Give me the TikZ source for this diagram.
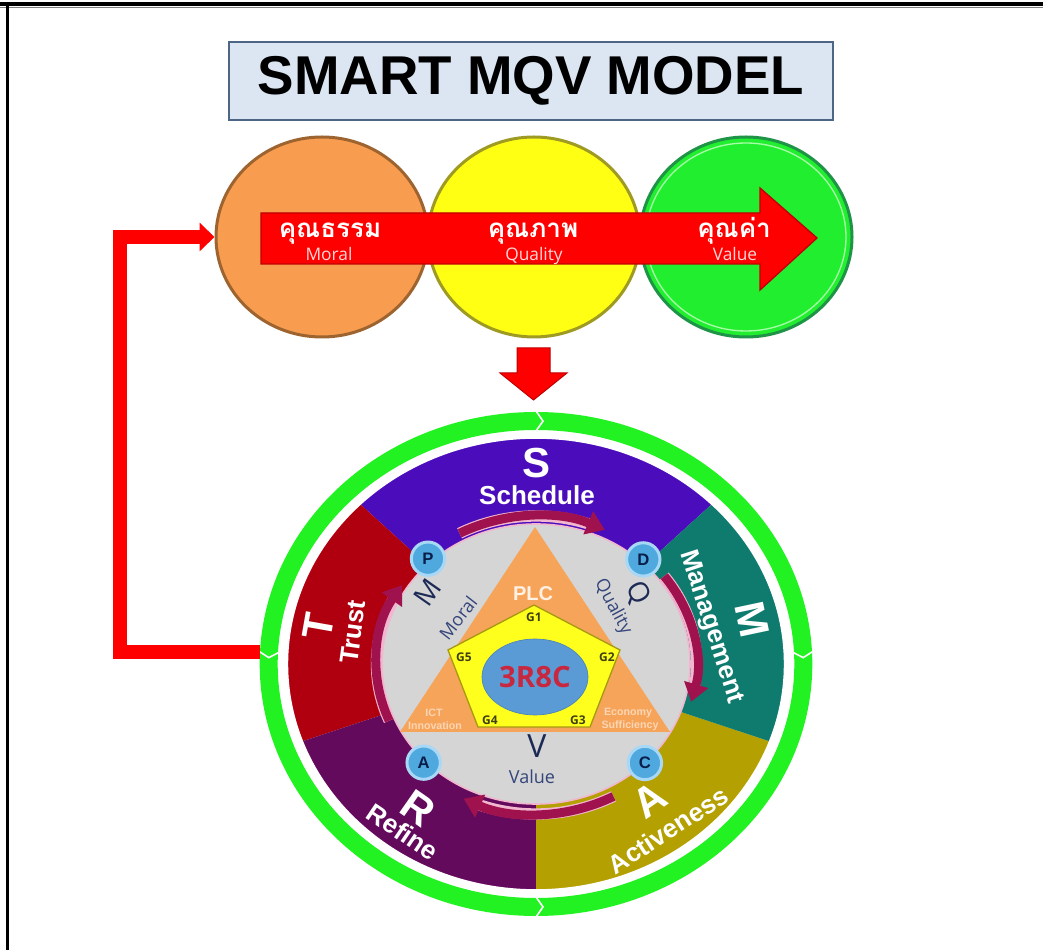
\documentclass[tikz,border=0pt]{standalone}
\usepackage{fontspec}
\setmainfont{Liberation Sans}
\newfontfamily\thaifont[Script=Thai]{Loma}
\newfontfamily\osans{Open Sans}
\usetikzlibrary{arrows.meta,shapes.geometric}
\newcommand\fsz[1]{\fontsize{#1pt}{#1pt}\selectfont}
\definecolor{orfill}{HTML}{F89C50}
\definecolor{ordraw}{HTML}{9E6430}
\definecolor{yefill}{HTML}{FFFF14}
\definecolor{yedraw}{HTML}{9E9A22}
\definecolor{grfill}{HTML}{22EE30}
\definecolor{grdraw}{HTML}{1E9446}
\definecolor{arrred}{HTML}{FF0000}
\definecolor{arrdark}{HTML}{C00000}
\definecolor{titlefill}{HTML}{DCE6F2}
\definecolor{titledraw}{HTML}{4E6685}
\definecolor{ringgreen}{HTML}{22F222}
\definecolor{segS}{HTML}{4B0DBB}
\definecolor{segM}{HTML}{0F7A6E}
\definecolor{segA}{HTML}{B4A000}
\definecolor{segR}{HTML}{630A5C}
\definecolor{segT}{HTML}{B0000F}
\definecolor{diskgray}{HTML}{D5D5D5}
\definecolor{arcmaroon}{HTML}{A0124E}
\definecolor{arcpink}{HTML}{F2B6CF}
\definecolor{trifill}{HTML}{F6A45A}
\definecolor{pentfill}{HTML}{FFFF1E}
\definecolor{pentdraw}{HTML}{A89A10}
\definecolor{ellblue}{HTML}{5B9BD5}
\definecolor{codered}{HTML}{C8283F}
\definecolor{navytext}{HTML}{1C2A55}
\definecolor{graytext}{HTML}{34457A}
\definecolor{gtext}{HTML}{3E4010}
\definecolor{badgeblue}{HTML}{4FA8DE}
\definecolor{badgering}{HTML}{A8D8F5}
\definecolor{badgetext}{HTML}{0A1E4A}
\definecolor{tritext}{HTML}{FCD6B4}
\definecolor{plctext}{HTML}{FFF1E4}
\definecolor{engpink}{HTML}{FFD6D6}
\begin{document}
\begin{tikzpicture}[x=0.75pt,y=0.75pt,
  titlefont/.style={font=\bfseries\fsz{41}},
  bubble/.style={ellipse, line width=2.25pt, minimum width=159pt, minimum height=150pt, inner sep=0},
  thai/.style={font=\thaifont\bfseries\fsz{19.5}, text=white, inner sep=0},
  eng/.style={font=\osans\fsz{13}, text=engpink, inner sep=0},
  segbig/.style={text=white, font=\bfseries\fsz{31.5}, inner sep=0},
  segsub/.style={text=white, font=\bfseries\fsz{19.5}, inner sep=0},
  graybig/.style={text=navytext, font=\osans\fsz{21}, inner sep=0},
  graysmall/.style={text=graytext, font=\osans\fsz{13.5}, inner sep=0},
  glabel/.style={text=gtext, font=\osans\bfseries\fsz{9}, inner sep=0},
  trilabel/.style={text=tritext, font=\bfseries\fsz{8}, inner sep=0},
  badge/.style={circle, fill=badgeblue, draw=badgering, line width=2.25pt, minimum size=25pt, inner sep=0, text=badgetext, font=\bfseries\fsz{12.5}},
  arcunder/.style={draw=arcpink, line width=8.5pt},
  arcarrow/.style={draw=arcmaroon, line width=6.75pt, -{Triangle[length=13.5pt,width=18pt]}},
  notch/.style={draw=white, line width=1.2pt},
  feedback/.style={draw=arrred, line width=10.5pt, -{Triangle[length=11.25pt,width=21pt]}}
]
\useasboundingbox (0,0) rectangle (1043,950);
\fill[white] (0,0) rectangle (1043,950);
% frame
\draw[black, line width=3pt] (0,946) -- (1043,946);
\draw[gray, line width=0.6pt] (0,942.5) -- (1043,942.5);
\draw[black, line width=2.25pt] (7.5,0) -- (7.5,947);

% title
\node[draw=titledraw, fill=titlefill, line width=1.5pt, minimum width=453pt, minimum height=58.5pt, inner sep=0, titlefont, text=black] (title) at (531,869) {SMART MQV MODEL};

% bubbles
\node[bubble, fill=orfill, draw=ordraw] (orange) at (322,713) {};
\node[bubble, fill=yefill, draw=yedraw] (yellow) at (534,713) {};
\node[bubble, fill=grfill, draw=grdraw] (green) at (746,713) {};
\draw[green!35!white, line width=1pt] (746,713) ellipse [x radius=100, y radius=94];

% big red arrow
\draw[arrdark, fill=arrred, line width=1pt] (261,737) -- (760,737) -- (760,762) -- (817,712) -- (760,660) -- (760,686) -- (261,686) -- cycle;
\node[thai, anchor=base] (t1) at (330,712) {คุณธรรม};
\node[thai, anchor=base] (t2) at (533,712) {คุณภาพ};
\node[thai, anchor=base] (t3) at (734,712) {คุณค่า};
\node[eng, anchor=base] (e1) at (329,689) {Moral};
\node[eng, anchor=base] (e2) at (534,689) {Quality};
\node[eng, anchor=base] (e3) at (735,689) {Value};

% down arrow
\draw[arrdark, fill=arrred, line width=0.75pt] (517,602) -- (550,602) -- (550,577) -- (567,577) -- (533.5,550) -- (500,577) -- (517,577) -- cycle;

% big wheel
\node[ellipse, minimum width=414pt, minimum height=378pt, inner sep=0, outer sep=0] (ring) at (536,286) {};
\begin{scope}[shift={(536,286)}, xscale=1.1]
  \draw[ringgreen, line width=13.5pt] (0,0) circle (243);
  \fill[segS] (0,0) -- (45:226) arc[start angle=45, end angle=135, radius=226] -- cycle;
  \fill[segT] (0,0) -- (135:226) arc[start angle=135, end angle=200, radius=226] -- cycle;
  \fill[segR] (0,0) -- (200:226) arc[start angle=200, end angle=270, radius=226] -- cycle;
  \fill[segA] (0,0) -- (270:226) arc[start angle=270, end angle=340, radius=226] -- cycle;
  \fill[segM] (0,0) -- (-20:226) arc[start angle=-20, end angle=45, radius=226] -- cycle;
  \draw[white, line width=1.2pt] (0,0) circle (226);
  \fill[diskgray] (0,0) circle (140);
  \draw[arcpink, line width=1.2pt] (0,0) circle (140);
  \draw[notch] (90:253) -- (88.5:243) -- (90:233);
  \draw[notch] (270:253) -- (271.5:243) -- (270:233);
  \draw[notch] (177:253) -- (178.5:243) -- (177:233);
  \draw[notch] (3:253) -- (1.5:243) -- (3:233);
  % cycle arrows
  \draw[arcunder] (118:148) arc[start angle=118, end angle=70, radius=148];
  \draw[arcarrow] (118:148) arc[start angle=118, end angle=65, radius=148];
  \draw[arcunder] (37:146) arc[start angle=37, end angle=-10, radius=146];
  \draw[arcarrow] (37:146) arc[start angle=37, end angle=-15, radius=146];
  \draw[arcunder] (-62:150) arc[start angle=-62, end angle=-110, radius=150];
  \draw[arcarrow] (-62:150) arc[start angle=-62, end angle=-116, radius=150];
  \draw[arcunder] (203:145) arc[start angle=203, end angle=152, radius=145];
  \draw[arcarrow] (203:145) arc[start angle=203, end angle=147, radius=145];
\end{scope}

% triangle, pentagon, core
\fill[trifill] (535,423) -- (670,218) -- (400,218) -- cycle;
\draw[pentdraw, fill=pentfill, line width=1pt] (534,345) -- (620,300) -- (590,223) -- (478,223) -- (448,300) -- cycle;
\node[ellipse, fill=ellblue, draw=ellblue!85!black, line width=0.5pt, minimum width=79.5pt, minimum height=57pt, inner sep=0, text=codered, font=\osans\bfseries\fsz{22}] (core) at (535,273) {3R8C};
\node[text=plctext, font=\bfseries\fsz{15}, inner sep=0] (plc) at (533,356) {PLC};
\node[glabel] (g1) at (534,333) {G1};
\node[glabel] (g2) at (607,293) {G2};
\node[glabel] (g3) at (578,230) {G3};
\node[glabel] (g4) at (490,230) {G4};
\node[glabel] (g5) at (464,293) {G5};
\node[trilabel] (ict) at (434,237) {ICT};
\node[trilabel] (innov) at (435,224) {Innovation};
\node[trilabel] (econ) at (628,237) {Economy};
\node[trilabel] (suff) at (630,224) {Sufficiency};

% gray area texts
\node[graybig, rotate=55] (mm) at (428,358) {M};
\node[graysmall, rotate=52] (moral) at (458,332) {Moral};
\node[graybig, rotate=-62] (qq) at (637,357) {Q};
\node[graysmall, rotate=-62] (quality) at (613,343) {Quality};
\node[graybig, font=\osans\fsz{24}] (vv) at (537,204) {V};
\node[graysmall] (value) at (532,173) {Value};

% segment texts
\node[segbig] (sS) at (537,487) {S};
\node[segsub] (sSch) at (537,455) {Schedule};
\node[segbig, rotate=-78] (sM) at (752,330) {M};
\node[segsub, rotate=-72] (sMan) at (711,323) {Management};
\node[segbig, rotate=35] (sA) at (650,150) {A};
\node[segsub, rotate=33] (sAct) at (668,120) {Activeness};
\node[segbig, rotate=-35] (sR) at (418,142) {R};
\node[segsub, rotate=-34] (sRef) at (403,118) {Refine};
\node[segbig, rotate=80] (sT) at (318,324) {T};
\node[segsub, rotate=82] (sTr) at (353,318) {Trust};

% badges
\begin{scope}[shift={(536,286)}, xscale=1.1]
  \node[badge] (bP) at (133:144) {P};
  \node[badge] (bD) at (47:143) {D};
  \node[badge] (bA) at (224:142) {A};
  \node[badge] (bC) at (-45:140) {C};
\end{scope}

% feedback connector
\coordinate (fb) at (119.5,298);
\draw[feedback] (fb -| ring.west) -- (fb) |- (orange.west);
\end{tikzpicture}
\end{document}
